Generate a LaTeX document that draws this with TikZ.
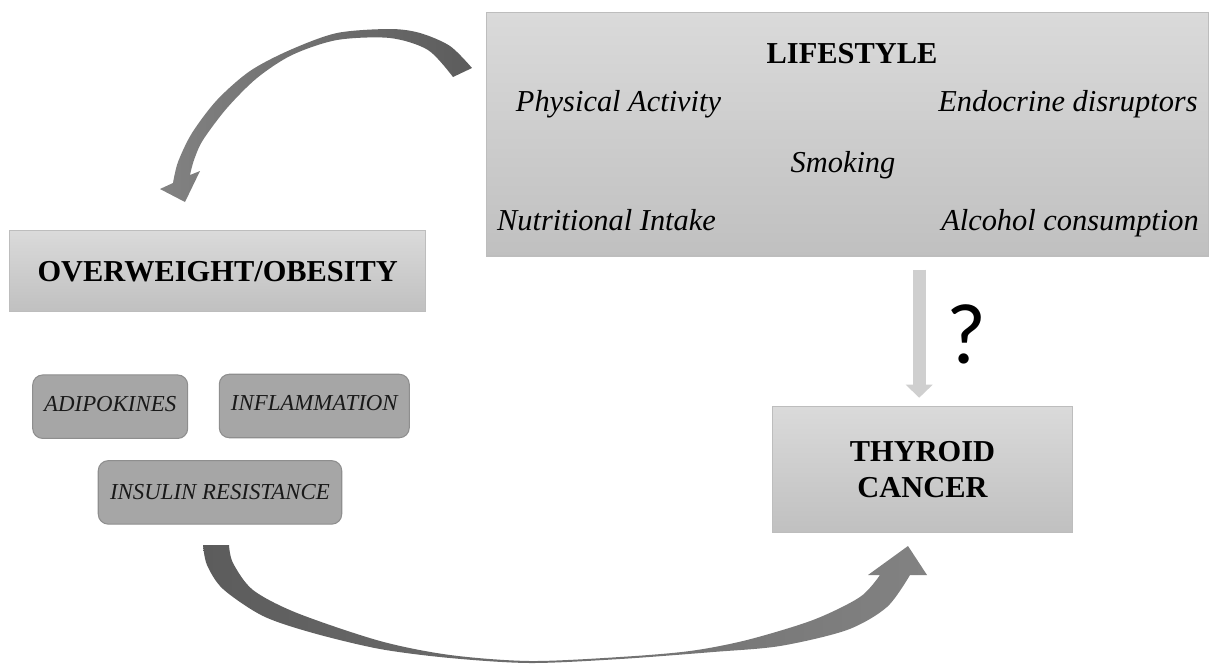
\documentclass[tikz,border=0pt]{standalone}
\usepackage{fontspec}
\setmainfont{Liberation Serif}
\newfontfamily\qmarkfont{Carlito}
\usepackage{tikz}
\usetikzlibrary{arrows.meta,positioning}

\definecolor{boxtop}{HTML}{DADADA}
\definecolor{boxbot}{HTML}{C0C0C0}
\definecolor{boxline}{HTML}{BDBDBD}
\definecolor{padfill}{HTML}{A6A6A6}
\definecolor{padline}{HTML}{8E8E8E}
\definecolor{qgray}{HTML}{CFCFCF}
\definecolor{arcdark}{HTML}{5C5C5C}
\definecolor{arclight}{HTML}{828282}

\tikzset{
  bigbox/.style={draw=boxline, line width=0.6pt, top color=boxtop, bottom color=boxbot, inner sep=0pt},
  title/.style={font=\fontsize{17.3}{20.8}\selectfont\bfseries},
  factor/.style={anchor=base, inner sep=0pt, font=\fontsize{17.3}{20.8}\selectfont\itshape},
  pad/.style={draw=padline, line width=0.6pt, fill=padfill, rounded corners=0.2cm, inner sep=0pt,
    minimum height=1.27cm, text=black!90, font=\fontsize{13}{15}\selectfont\itshape},
  qarrow/.style={draw=qgray, line width=0.26cm, -{Triangle[width=0.54cm,length=0.26cm,line width=0pt]}}
}

\begin{document}
\begin{tikzpicture}[x=0.02cm,y=-0.02cm]
    \useasboundingbox (0,0) rectangle (1210,667);

    % Lifestyle
    \node[bigbox, minimum width=14.45cm, minimum height=4.88cm] (lifestyle) at (847.75,134) {};
    \node[title, anchor=base, inner sep=0pt] (lifetitle) at (852,63) {LIFESTYLE};
    \node[factor] (activity) at (618.5,111) {Physical Activity};
    \node[factor] (endocrine) at (1068,111) {Endocrine disruptors};
    \node[factor] (smoking) at (843,172) {Smoking};
    \node[factor] (nutrition) at (606.5,230) {Nutritional Intake};
    \node[factor] (alcohol) at (1070,230) {Alcohol consumption};

    % Obesity and its mechanisms
    \node[bigbox, title, minimum width=8.33cm, minimum height=1.62cm] (obesity) at (217.7,271.2) {OVERWEIGHT/OBESITY};
    \node[pad, minimum width=3.1cm, text depth=0.12cm] (adipo) at (110.2,406.7) {ADIPOKINES};
    \node[pad, minimum width=3.8cm, text depth=0.12cm] (inflam) at (314.3,406) {INFLAMMATION};
    \node[pad, minimum width=4.87cm] (insulin) at (220,492.4) {INSULIN RESISTANCE};

    % Thyroid cancer
    \node[bigbox, title, align=center, minimum width=5.99cm, minimum height=2.52cm] (thyroid) at (922.5,469.7) {THYROID\\CANCER};

    % Lifestyle -> thyroid cancer
    \coordinate (qtop) at (thyroid.north |- lifestyle.south);
    \draw[qarrow] ([xshift=-0.066cm,yshift=-0.26cm]qtop) -- ([xshift=-0.066cm,yshift=0.17cm]thyroid.north);
    \node[anchor=base, inner sep=0pt, font=\qmarkfont\fontsize{49}{50}\selectfont] (qmark) at (966.2,363) {?};

    % Lifestyle -> obesity
    \shade[left color=arclight, right color=arcdark]
        plot[smooth] coordinates {(472,68) (450,46) (420,33) (390,29) (337,33) (290,50) (250,71)
            (217,100) (192,133) (178,162) (173,183)}
        -- (160,189) -- (185,202) -- (200,171)
        -- plot[smooth] coordinates {(190,175) (194,160) (203,140) (227,108) (257,78) (292,55)
            (337,40) (390,38) (428,50) (453,77)}
        -- cycle;

    % Obesity -> thyroid cancer
    \shade[left color=arcdark, right color=arclight]
        plot[smooth] coordinates {(203,545) (207,565) (223,589) (263,616) (313,633) (380,649)
            (450,658) (530,663) (620,659) (713,652) (780,646) (847,630) (887,607) (910,575)}
        -- (927,575) -- (908,546) -- (868,575)
        -- plot[smooth] coordinates {(880,575) (860,597) (813,620) (747,640) (690,651) (620,657)
            (530,661) (450,655) (380,641) (297,613) (253,590) (233,563) (229,545)}
        -- cycle;
\end{tikzpicture}
\end{document}
